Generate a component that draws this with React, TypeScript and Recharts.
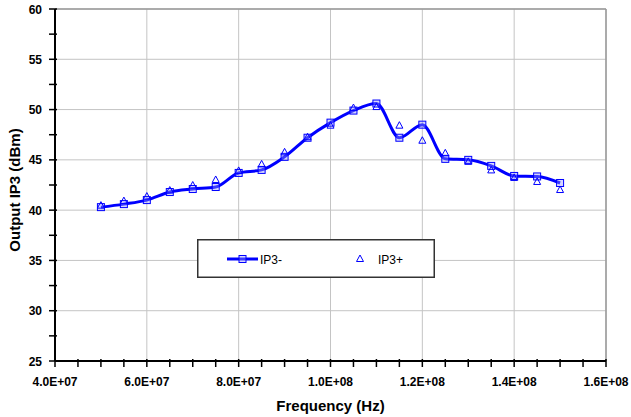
import React from 'react';
import { LineChart, Line, XAxis, YAxis, CartesianGrid, Legend, ReferenceLine, Label } from 'recharts';

// frequency points (Hz)
const freqs = [
  5.0e7, 5.5e7, 6.0e7, 6.5e7, 7.0e7, 7.5e7, 8.0e7, 8.5e7, 9.0e7, 9.5e7, 1.0e8,
  1.05e8, 1.1e8, 1.15e8, 1.2e8, 1.25e8, 1.3e8, 1.35e8, 1.4e8, 1.45e8, 1.5e8,
];
const ip3Minus = [
  40.3, 40.6, 41.0, 41.8, 42.1, 42.3, 43.7, 44.0, 45.3, 47.2, 48.7,
  49.9, 50.6, 47.2, 48.5, 45.1, 45.0, 44.4, 43.4, 43.35, 42.7,
];
const ip3Plus = [
  40.45, 40.9, 41.35, 41.95, 42.45, 43.0, 43.9, 44.55, 45.75, 47.25, 48.4,
  50.15, 50.25, 48.4, 46.9, 45.65, 44.8, 43.95, 43.2, 42.8, 42.0,
];

const xMajor = [4e7, 6e7, 8e7, 1e8, 1.2e8, 1.4e8, 1.6e8];
const xTicks = [
  4e7, 4.5e7, 5e7, 5.5e7, 6e7, 6.5e7, 7e7, 7.5e7, 8e7, 8.5e7, 9e7, 9.5e7, 1e8,
  1.05e8, 1.1e8, 1.15e8, 1.2e8, 1.25e8, 1.3e8, 1.35e8, 1.4e8, 1.45e8, 1.5e8, 1.55e8, 1.6e8,
];
const yMajor = [25, 30, 35, 40, 45, 50, 55, 60];
const yTicks = [25, 27.5, 30, 32.5, 35, 37.5, 40, 42.5, 45, 47.5, 50, 52.5, 55, 57.5, 60];

const data = freqs.map((f, i) => ({ f, minus: ip3Minus[i], plus: ip3Plus[i] }));

const FONT = '"Liberation Sans", Arial, sans-serif';
const BLUE = '#0000ff';

const sci = (v: number) => {
  const e = Math.floor(Math.log10(v) + 1e-9);
  const m = v / Math.pow(10, e);
  return `${m.toFixed(1)}E+${String(e).padStart(2, '0')}`;
};

const XTick = ({ x, y, payload }: any) => (
  <g>
    <line x1={x} x2={x} y1={y - 4} y2={y + 4} stroke="#000" strokeWidth={1.5} />
    {xMajor.includes(payload.value) && (
      <text x={x} y={y + 23} textAnchor="middle" fontSize={12} fontWeight="bold" fontFamily={FONT} fill="#000">
        {sci(payload.value)}
      </text>
    )}
  </g>
);

const YTick = ({ x, y, payload }: any) => (
  <g>
    <line x1={x - 4} x2={x + 4} y1={y} y2={y} stroke="#000" strokeWidth={1.5} />
    {yMajor.includes(payload.value) && (
      <text x={x - 11} y={y + 4.5} textAnchor="end" fontSize={12} fontWeight="bold" fontFamily={FONT} fill="#000">
        {payload.value}
      </text>
    )}
  </g>
);

const SquareDot = ({ cx, cy }: any) => (
  <rect x={cx - 3.5} y={cy - 3.5} width={7} height={7} fill="#9999ff" fillOpacity={0.4} stroke={BLUE} strokeWidth={1} />
);

const TriangleDot = ({ cx, cy }: any) => (
  <path d={`M${cx},${cy - 4} L${cx + 3.5},${cy + 2.5} L${cx - 3.5},${cy + 2.5} Z`} fill="none" stroke={BLUE} strokeWidth={1} />
);

const YTitle = ({ viewBox }: any) => {
  const cx = 20;
  const cy = viewBox.y + viewBox.height / 2 + 5;
  return (
    <text x={cx} y={cy} transform={`rotate(-90 ${cx} ${cy})`} textAnchor="middle" fontSize={15} fontWeight="bold" fontFamily={FONT} fill="#000">
      Output IP3 (dBm)
    </text>
  );
};

const LegendBox = () => (
  <svg width={238} height={39} style={{ display: 'block' }}>
    <rect x={0.75} y={0.75} width={236.5} height={37.5} fill="#fff" stroke="#333" strokeWidth={1.5} />
    <line x1={30} x2={61} y1={20} y2={20} stroke={BLUE} strokeWidth={3} />
    <rect x={42} y={16.5} width={7} height={7} fill="#9999ff" fillOpacity={0.4} stroke={BLUE} strokeWidth={1} />
    <text x={63} y={24.5} fontSize={12} fontFamily={FONT} fill="#000">IP3-</text>
    <path d="M163,16 L166.5,22.5 L159.5,22.5 Z" fill="none" stroke={BLUE} strokeWidth={1} />
    <text x={181} y={24.5} fontSize={12} fontFamily={FONT} fill="#000">IP3+</text>
  </svg>
);

export default function App() {
  return (
    <div style={{ position: 'absolute', left: 0, top: 0, background: '#fff' }}>
      <LineChart width={631} height={417} data={data} margin={{ top: 9, right: 25, bottom: 0, left: 0 }}>
        <CartesianGrid horizontalValues={yMajor} verticalValues={xMajor} stroke="#c4c4c4" strokeWidth={1} />
        <ReferenceLine y={60} stroke="#999" strokeWidth={1.5} />
        <ReferenceLine x={1.6e8} stroke="#999" strokeWidth={1.5} />
        <XAxis
          type="number"
          dataKey="f"
          domain={[4e7, 1.6e8]}
          ticks={xTicks}
          interval={0}
          tickSize={0}
          tickLine={false}
          tick={<XTick />}
          height={56}
          axisLine={{ stroke: '#000', strokeWidth: 2 }}
        >
          <Label
            value="Frequency (Hz)"
            position="insideBottom"
            offset={6}
            style={{ fontSize: 15, fontWeight: 'bold', fontFamily: FONT, fill: '#000' }}
          />
        </XAxis>
        <YAxis
          type="number"
          domain={[25, 60]}
          ticks={yTicks}
          interval={0}
          tickSize={0}
          tickLine={false}
          tick={<YTick />}
          width={55}
          axisLine={{ stroke: '#000', strokeWidth: 2 }}
        >
          <Label content={<YTitle />} />
        </YAxis>
        <Legend
          layout="horizontal"
          verticalAlign="middle"
          align="center"
          content={<LegendBox />}
          wrapperStyle={{ position: 'absolute', left: 197, top: 239, width: 238, height: 39 }}
        />
        <Line
          type="monotone"
          dataKey="minus"
          name="IP3-"
          stroke={BLUE}
          strokeWidth={3}
          dot={<SquareDot />}
          activeDot={false}
          isAnimationActive={false}
        />
        <Line
          type="monotone"
          dataKey="plus"
          name="IP3+"
          stroke="none"
          dot={<TriangleDot />}
          activeDot={false}
          isAnimationActive={false}
        />
      </LineChart>
    </div>
  );
}
